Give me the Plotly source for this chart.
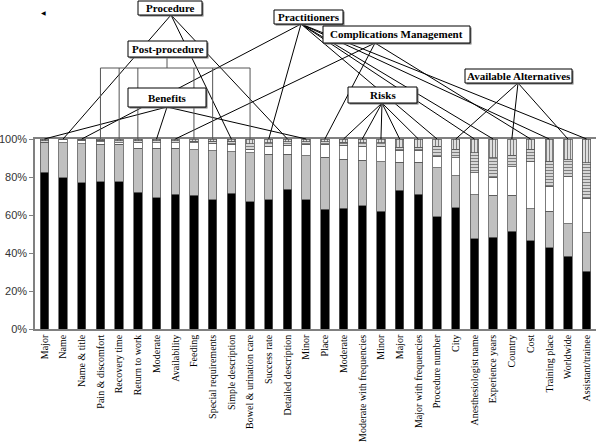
import plotly.graph_objects as go

categories = ["Major", "Name", "Name & title", "Pain & discomfort", "Recovery time",
              "Return to work", "Moderate", "Availability", "Feeding", "Special requirements",
              "Simple description", "Bowel & urination care", "Success rate", "Detailed description",
              "Minor", "Place", "Moderate", "Moderate with frequencies", "Minor", "Major",
              "Major with frequencies", "Procedure number", "City", "Anesthesiologist name",
              "Experience years", "Country", "Cost", "Training place", "Worldwide", "Assistant/trainee"]

y_ticks = [0, 20, 40, 60, 80, 100]
y_tick_labels = ["0%", "20%", "40%", "60%", "80%", "100%"]

# cumulative tops (percent)
black_top = [82.5, 79.5, 77, 77.5, 77.5, 72, 69, 71, 70.5, 68, 71.5, 67, 68, 73.5, 68,
             63, 63.5, 65, 62, 73, 71, 59, 63.7, 47.5, 48.3, 51.5, 46.4, 42.7, 38.3, 30.3]
gray_top = [98, 98, 97.5, 97.2, 97.2, 95.1, 95.1, 95.1, 94.4, 93.8, 93.3, 92.8, 92.1, 92.1, 91.2,
            90.3, 89.4, 88.9, 88, 87.7, 87.7, 85, 80.7, 70.7, 70.4, 70.4, 63.3, 61.9, 55.4, 50.6]
white_top = [98.3, 99.5, 99, 98.6, 98, 98.2, 97.9, 97.9, 97.9, 97.4, 97.2, 94.7, 96.1, 96.8, 97.2,
             97.2, 96.8, 96.1, 96.1, 94.2, 94.2, 91, 90.1, 82.2, 79.9, 85.5, 88.4, 75.1, 80.4, 68.9]
hstripe_top = [99, 99.8, 99.5, 99.3, 99, 99.1, 99, 99, 98.7, 98.9, 98.7, 97.4, 98, 98.5, 98.6,
               98.6, 98.4, 98, 98, 95.6, 95.6, 96.3, 94.5, 92.8, 90.1, 91.5, 94.5, 88.4, 89.2, 87.5]

s_black = black_top
s_gray = [g - b for g, b in zip(gray_top, black_top)]
s_white = [w - g for w, g in zip(white_top, gray_top)]
s_hstripe = [h - w for h, w in zip(hstripe_top, white_top)]
s_vstripe = [100 - h for h in hstripe_top]

groups = {
    "Procedure": [1, 10, 13],
    "Post-procedure": [3, 4, 5, 8, 9, 11],
    "Benefits": [0, 6, 14],
    "Practitioners": [2, 12, 21, 23, 24, 27, 29],
    "Complications Management": [7, 15, 26],
    "Risks": [16, 17, 18, 19, 20],
    "Available Alternatives": [22, 25, 28],
}

N = len(categories)
xs = list(range(N))

fig = go.Figure()
outline = dict(color="#5a5a5a", width=0.8)
fig.add_trace(go.Bar(x=xs, y=s_black, marker=dict(color="black", line=outline)))
fig.add_trace(go.Bar(x=xs, y=s_gray, marker=dict(color="#c0c0c0", line=outline)))
fig.add_trace(go.Bar(x=xs, y=s_white, marker=dict(color="white", line=outline)))
fig.add_trace(go.Bar(x=xs, y=s_hstripe, marker=dict(color="white", line=outline,
                     pattern=dict(shape="-", fgcolor="black", bgcolor="white", size=3, solidity=0.55))))
fig.add_trace(go.Bar(x=xs, y=s_vstripe, marker=dict(color="white", line=outline,
                     pattern=dict(shape="|", fgcolor="black", bgcolor="white", size=3, solidity=0.5))))

W, H = 600, 444
L, R, T, B = 35, 596, 139, 329


def pxp(px):
    return (px - L) / (R - L)


def pyp(py):
    return (B - py) / (B - T)


def barp(i):
    return (i + 0.5) / N


shapes = []
ln = dict(color="black", width=1)

origins = {
    "Procedure": (171, 15),
    "Benefits": (167, 107),
    "Practitioners": (301, 24),
    "Complications Management": (375, 43),
    "Risks": (382, 103),
    "Available Alternatives": (518, 83),
}
for g, (ox, oy) in origins.items():
    for i in groups[g]:
        shapes.append(dict(type="line", xref="paper", yref="paper",
                           x0=pxp(ox), y0=pyp(oy), x1=barp(i), y1=1, line=ln))

# Post-procedure bracket
pp = groups["Post-procedure"]
br_y = 68
gln = dict(color="#555555", width=1)
shapes.append(dict(type="line", xref="paper", yref="paper", x0=pxp(167), y0=pyp(57),
                   x1=pxp(167), y1=pyp(br_y), line=gln))
shapes.append(dict(type="line", xref="paper", yref="paper", x0=barp(min(pp)), y0=pyp(br_y),
                   x1=barp(max(pp)), y1=pyp(br_y), line=gln))
for i in pp:
    shapes.append(dict(type="line", xref="paper", yref="paper", x0=barp(i), y0=pyp(br_y),
                       x1=barp(i), y1=1, line=gln))

boxes = {
    "Procedure": (138, 1, 202, 15),
    "Post-procedure": (128, 41, 207, 57),
    "Benefits": (128, 88, 206, 107),
    "Practitioners": (274, 10, 343, 24),
    "Complications Management": (323, 26, 470, 43),
    "Risks": (348, 87, 417, 103),
    "Available Alternatives": (465, 69, 572, 83),
}
annotations = []
for name, (x0, y0, x1, y1) in boxes.items():
    shapes.append(dict(type="rect", xref="paper", yref="paper", x0=pxp(x0 + 1.5), y0=pyp(y1 + 1.5),
                       x1=pxp(x1 + 1.5), y1=pyp(y0 + 1.5), fillcolor="#777777",
                       line=dict(width=0)))
    shapes.append(dict(type="rect", xref="paper", yref="paper", x0=pxp(x0), y0=pyp(y1),
                       x1=pxp(x1), y1=pyp(y0), fillcolor="white",
                       line=dict(color="black", width=1)))
    annotations.append(dict(xref="paper", yref="paper", x=pxp((x0 + x1) / 2), y=pyp((y0 + y1) / 2),
                            text="<b>" + name + "</b>", showarrow=False,
                            font=dict(family="Liberation Serif", size=11, color="black"),
                            xanchor="center", yanchor="middle"))

annotations.append(dict(xref="paper", yref="paper", x=pxp(43), y=pyp(13), text="◀",
                        showarrow=False, font=dict(size=6, color="black"),
                        xanchor="center", yanchor="middle"))

fig.update_layout(
    barmode="stack",
    bargap=0.55,
    showlegend=False,
    width=W, height=H,
    margin=dict(l=L, r=W - R, t=T, b=H - B, autoexpand=False),
    plot_bgcolor="white",
    paper_bgcolor="white",
    shapes=shapes,
    annotations=annotations,
    xaxis=dict(range=[-0.5, N - 0.5], tickvals=xs, ticktext=categories, tickangle=-90,
               showline=True, mirror=True, linecolor="#808080", linewidth=1.5,
               showgrid=False, ticks="", zeroline=False, automargin=False,
               tickfont=dict(family="Liberation Serif", size=10, color="black")),
    yaxis=dict(range=[0, 100], tickvals=y_ticks, ticktext=y_tick_labels,
               showline=True, linecolor="#808080", linewidth=1.5, showgrid=False,
               ticks="outside", ticklen=4, tickcolor="#808080", zeroline=False, automargin=False,
               tickfont=dict(family="Liberation Sans", size=11, color="#333333")),
)

fig.write_html("out.html", config={"displayModeBar": False},
               post_script="document.body.style.margin='0';")
